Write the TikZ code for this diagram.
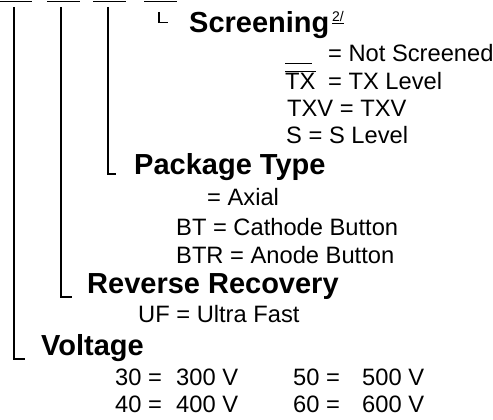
\documentclass[tikz,border=0pt]{standalone}
\usepackage{fontspec}
\setmainfont{Liberation Sans}
\tikzset{
  head/.style={anchor=base west, inner sep=0pt, font=\fontsize{29}{33}\selectfont\bfseries},
  item/.style={anchor=base west, inner sep=0pt, font=\fontsize{23.7}{28}\selectfont},
  supmark/.style={anchor=base west, inner sep=0pt, font=\fontsize{14}{16}\selectfont},
  rule/.style={line width=2pt},
  bar/.style={line width=1.4pt},
  hook/.style={line width=1.5pt},
}
\begin{document}
\begin{tikzpicture}[x=1pt,y=-1pt]
\useasboundingbox (0,0) rectangle (493,420);

% top field bars
\coordinate (b1l) at (0,1.5);   \coordinate (b1r) at (32,1.5);
\coordinate (b2l) at (47,1.5);  \coordinate (b2r) at (80,1.5);
\coordinate (b3l) at (93,1.5);  \coordinate (b3r) at (126,1.5);
\coordinate (b4l) at (144,1.5); \coordinate (b4r) at (177,1.5);
\draw[bar] (b1l) -- (b1r);
\draw[bar] (b2l) -- (b2r);
\draw[bar] (b3l) -- (b3r);
\draw[bar] (b4l) -- (b4r);

% headings
\node[head] (scr) at (189,33) {Screening};
\node[supmark] (sup) at (332,22) {\underline{2/}};
\node[head] (pkg) at (134,174) {Package Type};
\node[head] (rev) at (87,293) {Reverse Recovery};
\node[head] (vol) at (41,355) {Voltage};

% connector lines
\coordinate (v1t) at (14,7);  \coordinate (v1c) at (14,359);  \coordinate (v1e) at (25,359);
\coordinate (v2t) at (61,7);  \coordinate (v2c) at (61,297);  \coordinate (v2e) at (72,297);
\coordinate (v3t) at (108,7); \coordinate (v3c) at (108,174); \coordinate (v3e) at (116,174);
\coordinate (v4t) at (159,12); \coordinate (v4c) at (159,22.5); \coordinate (v4e) at (168,22.5);
\draw[rule] (v1t) -- (v1c) -- (v1e);
\draw[rule] (v2t) -- (v2c) -- (v2e);
\draw[rule] (v3t) -- (v3c) -- (v3e);
\draw[hook] (v4t) -- (v4c) -- (v4e);

% screening options
\coordinate (us1) at (285,63.5); \coordinate (us2) at (312,63.5);
\draw[bar] (us1) -- (us2);
\node[item] (s0) at (328,62) {= Not Screened};
\node[item] (s1c) at (285,90) {TX};
\draw[bar] ([yshift=2pt]s1c.north west) -- ([yshift=2pt]s1c.north east);
\node[item] (s1) at (328,90) {= TX Level};
\node[item] (s2) at (287,117) {TXV = TXV};
\node[item] (s3) at (286,143) {S = S Level};

% package options
\node[item] (p0) at (207,205) {= Axial};
\node[item] (p1) at (176,235) {BT = Cathode Button};
\node[item] (p2) at (176,263) {BTR = Anode Button};

% reverse recovery
\node[item] (r0) at (138,322) {UF = Ultra Fast};

% voltage options
\node[item] (c30) at (115,385) {30 =};
\node[item] (v30) at (176,385) {300 V};
\node[item] (c50) at (293,385) {50 =};
\node[item] (v50) at (362,385) {500 V};
\node[item] (c40) at (115,412) {40 =};
\node[item] (v40) at (176,412) {400 V};
\node[item] (c60) at (293,412) {60 =};
\node[item] (v60) at (362,412) {600 V};
\end{tikzpicture}
\end{document}
